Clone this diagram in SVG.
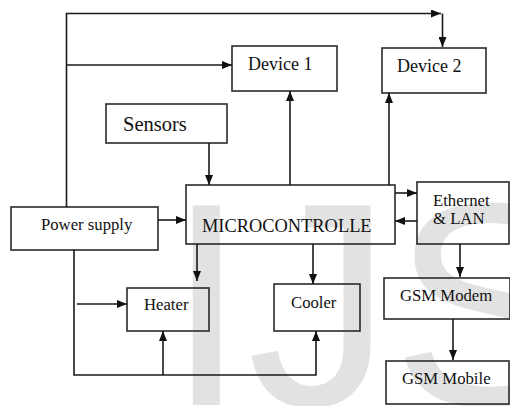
<svg xmlns="http://www.w3.org/2000/svg" width="510" height="406" viewBox="0 0 510 406">
<style>
.box{fill:none;stroke:#2a2a2a;stroke-width:1.6}
.ln{fill:none;stroke:#1a1a1a;stroke-width:1.6}
.t{font-family:"Liberation Serif","Times New Roman","DejaVu Serif",serif;fill:#111;font-size:16.7px}
</style>
<defs>
<marker id="a" markerWidth="10" markerHeight="8" refX="10" refY="4" orient="auto" markerUnits="userSpaceOnUse">
<path d="M0,0 L10,4 L0,8 Z" fill="#111"/>
</marker>
</defs>
<rect width="510" height="406" fill="#fff"/>
<text font-family="Liberation Sans" font-size="290" fill="#e2e2e2" x="166 247 392" y="405">IJS</text>
<g id="device1"><rect class="box" x="232" y="46" width="105" height="45"/><text class="t" x="248" y="70" style="font-size:18px">Device 1</text></g>
<g id="device2"><rect class="box" x="382" y="48" width="104" height="45"/><text class="t" x="397" y="72" style="font-size:18px">Device 2</text></g>
<g id="sensors"><rect class="box" x="106" y="104" width="121" height="39"/><text class="t" x="123" y="131" style="font-size:20.5px">Sensors</text></g>
<g id="microcontroller"><rect class="box" x="186" y="185" width="209" height="59"/><text class="t" x="202" y="231.5" style="font-size:18.4px">MICROCONTROLLE</text></g>
<g id="power"><rect class="box" x="11" y="207" width="147" height="43"/><text class="t" x="41" y="230">Power supply</text></g>
<g id="ethernet"><rect class="box" x="417" y="182" width="92" height="62"/><text class="t" x="433" y="206">Ethernet</text><text class="t" x="433" y="224">&amp; LAN</text></g>
<g id="heater"><rect class="box" x="127" y="288" width="82" height="43"/><text class="t" x="144" y="310">Heater</text></g>
<g id="cooler"><rect class="box" x="274" y="284" width="86" height="47"/><text class="t" x="291" y="307.5">Cooler</text></g>
<g id="gsmmodem"><rect class="box" x="384" y="278" width="126" height="41"/><text class="t" x="400" y="300.5">GSM Modem</text></g>
<g id="gsmmobile"><rect class="box" x="386" y="361" width="123" height="43"/><text class="t" x="402" y="384">GSM Mobile</text></g>
<g id="connectors">
<path class="ln" d="M66.5,207 V13.5 H441" marker-end="url(#a)"/>
<path class="ln" d="M442.5,13.5 V47" marker-end="url(#a)"/>
<path class="ln" d="M66.5,65 H232" marker-end="url(#a)"/>
<path class="ln" d="M290,185 V91" marker-end="url(#a)"/>
<path class="ln" d="M389,185 V93" marker-end="url(#a)"/>
<path class="ln" d="M209,143 V185" marker-end="url(#a)"/>
<path class="ln" d="M158,220 H186" marker-end="url(#a)"/>
<path class="ln" d="M395,193 H417" marker-end="url(#a)"/>
<path class="ln" d="M417,221 H395" marker-end="url(#a)"/>
<path class="ln" d="M460,244 V277" marker-end="url(#a)"/>
<path class="ln" d="M453,319 V360" marker-end="url(#a)"/>
<path class="ln" d="M197,244 V281" marker-end="url(#a)"/>
<path class="ln" d="M313,244 V284" marker-end="url(#a)"/>
<path class="ln" d="M77,304 H127" marker-end="url(#a)"/>
<path class="ln" d="M74,250 V375 H316 V331" marker-end="url(#a)"/>
<path class="ln" d="M163,375 V331" marker-end="url(#a)"/>
</g>
</svg>
